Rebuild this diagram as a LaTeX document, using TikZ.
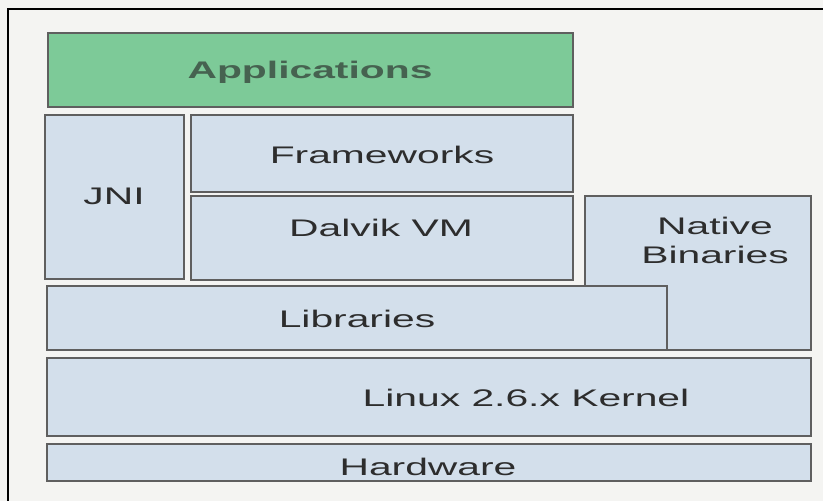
\documentclass[tikz,border=0pt]{standalone}
\usepackage{fontspec}
\setmainfont{Liberation Sans}[FakeStretch=1.7]
\definecolor{layerblue}{RGB}{211,223,235}
\definecolor{appgreen}{RGB}{125,202,152}
\definecolor{edgegray}{RGB}{95,95,95}
\definecolor{inkgray}{RGB}{45,45,45}
\definecolor{appink}{RGB}{70,98,80}
\definecolor{paper}{RGB}{244,244,242}
\tikzset{layer/.style={fill=layerblue,draw=edgegray,line width=0.7pt},
  lbl/.style={anchor=base,inner sep=0pt,text=inkgray,font=\fontsize{12}{14.5}\selectfont}}
\begin{document}
\begin{tikzpicture}[x=0.5pt,y=-0.5pt]
\useasboundingbox (0,0) rectangle (823,501);
\fill[paper] (0,0) rectangle (823,501);
\draw[line width=1pt] (8,501) -- (8,9) -- (823,9);
\draw[layer,fill=appgreen] (48,33) rectangle (573,107);
\foreach \a/\b/\c/\d in {45/115/184/279,191/115/573/192,191/196/573/280,
  585/196/811/350,47/286/667/350,47/358/811/436,47/444/811/481}
\draw[layer] (\a,\b) rectangle (\c,\d);
\node[lbl,text=appink,font=\fontsize{12}{14.5}\selectfont\bfseries] (apps) at (310,79) {Applications};
\node[lbl] (jni) at (114,205) {JNI};
\node[lbl] (fw) at (382,164) {Frameworks};
\node[lbl] (dvm) at (381,237) {Dalvik VM};
\node[lbl,anchor=center,align=center] (native) at (715,240) {Native\\Binaries};
\node[lbl] (libs) at (357,328) {Libraries};
\node[lbl] (kernel) at (526,407) {Linux 2.6.x Kernel};
\node[lbl] (hw) at (428,475) {Hardware};
\end{tikzpicture}
\end{document}
